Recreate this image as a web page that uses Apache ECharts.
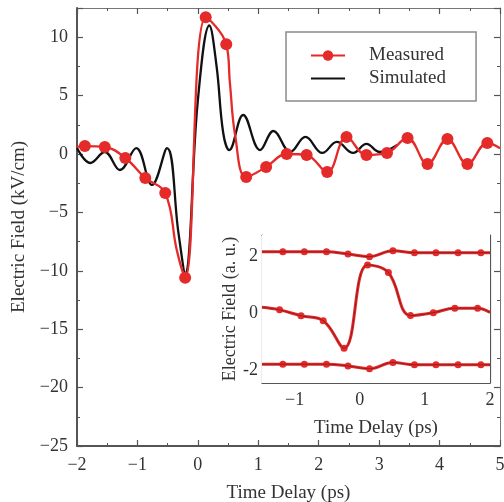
<!DOCTYPE html>
<html><head><meta charset="utf-8">
<script src="https://cdn.jsdelivr.net/npm/echarts@6/dist/echarts.min.js"></script>
<style>html,body{margin:0;padding:0;background:#fff}#c{width:504px;height:502px}</style>
</head><body><div id="c"></div>
<script>
// ---- Main chart data (Time delay ps, Electric field kV/cm) ----
const measuredX = [-1.87,-1.54,-1.2,-0.87,-0.54,-0.21,0.13,0.47,0.8,1.13,1.47,1.8,2.14,2.46,2.79,3.13,3.47,3.8,4.13,4.46,4.79];
const measuredY = [0.68,0.6,-0.34,-2.05,-3.34,-10.6,11.7,9.4,-1.97,-1.11,0.0,-0.09,-1.54,1.46,-0.09,0.09,1.37,-0.86,1.28,-0.86,0.94];
// extra (unmarked) points along the measured curve
const measuredCurveX = [-2.0,-0.35,0.53,0.62,5.0];
const measuredCurveY = [0.6,-8.2,6.1,1.5,0.5];
const simulatedX = [-2.0,-1.78,-1.54,-1.29,-1.02,-0.76,-0.51,-0.32,-0.21,0.0,0.19,0.31,0.42,0.52,0.75,1.03,1.25,1.53,1.78,2.06,2.3,2.57,2.79,3.01,3.3];
const simulatedY = [0.51,-0.77,0.17,-1.37,0.51,-2.65,0.51,-6.8,-10.2,4.6,11.0,7.5,1.8,0.34,3.34,0.34,1.97,0.17,1.46,0.09,1.03,0.09,0.86,0.17,0.77];

// ---- Inset data (Time delay ps, Electric field a.u.) ----
const insetMarkX = [-1.18,-0.85,-0.51,-0.18,0.15,0.51,0.84,1.17,1.51,1.86];
const insetTopY = [2.16,2.16,2.16,2.08,1.99,2.2,2.13,2.13,2.13,2.13];
const insetBottomY = [-1.79,-1.79,-1.79,-1.85,-1.95,-1.73,-1.81,-1.81,-1.81,-1.81];
const insetMidX = [-1.23,-0.9,-0.56,-0.24,0.12,0.44,0.78,1.13,1.46,1.81];
const insetMidY = [0.12,-0.09,-0.26,-1.23,1.7,1.43,-0.08,0.02,0.18,0.18];
const insetEdgeX = [-1.5,2.0];
const insetTopEdgeY = [2.16,2.13];
const insetMidEdgeY = [0.21,0.03];
const insetBottomEdgeY = [-1.79,-1.81];
const insetXTicks = [-1,0,1,2];
const insetYTicks = [-2,0,2];

const FONT = 'Liberation Serif';
const TXT = '#333';
const AX = '#555';
const RED = '#e52a2a';
const minus = v => String(v).replace('-', '\u2212');

function markedData(xs, ys, cx, cy) {
  const pts = xs.map((x,i)=>({value:[x,ys[i]]}));
  (cx||[]).forEach((x,i)=>pts.push({value:[x,cy[i]], symbol:'none'}));
  pts.sort((a,b)=>a.value[0]-b.value[0]);
  return pts;
}
function pairs(xs, ys){ return xs.map((x,i)=>[x,ys[i]]); }
function range(a,b,s){ const r=[]; for(let v=a; v<=b+1e-9; v+=s) r.push(Math.round(v*1000)/1000); return r; }

// main axes
const mainAxisCommon = (pos, lw, col) => ({
  gridIndex:0, type:'value', position:pos,
  axisLine:{show:true,onZero:false,lineStyle:{color:col,width:lw}},
  axisTick:{show:true,inside:true,length:6,lineStyle:{color:AX,width:1.2}},
  minorTick:{show:true,splitNumber:2,length:3,lineStyle:{color:AX,width:1}},
  splitLine:{show:false}, minorSplitLine:{show:false}
});
const xMain = Object.assign(mainAxisCommon('bottom',2,AX),{
  min:-2,max:5,interval:1,
  axisLabel:{show:true,margin:10,fontSize:18,fontFamily:FONT,color:TXT,formatter:minus},
  name:'Time Delay (ps)',nameLocation:'middle',nameGap:38,
  nameTextStyle:{fontSize:19,fontFamily:FONT,color:TXT}
});
const xMainTop = Object.assign(mainAxisCommon('top',1,'#777'),{min:-2,max:5,interval:1,axisLabel:{show:false}});
const yMain = Object.assign(mainAxisCommon('left',2,AX),{
  min:-25,max:12.5,interval:5,
  axisLabel:{show:true,margin:9,fontSize:18,fontFamily:FONT,color:TXT,formatter:minus,showMaxLabel:false},
  name:'Electric Field (kV/cm)',nameLocation:'middle',nameGap:46,
  nameTextStyle:{fontSize:19,fontFamily:FONT,color:TXT}
});
const yMainRight = Object.assign(mainAxisCommon('right',1,'#777'),{min:-25,max:12.5,interval:5,axisLabel:{show:false}});

// inset axes
function insetAxis(pos, min, max, ticks, len, showLine, label, extra){
  const a = {gridIndex:1,type:'value',position:pos,min:min,max:max,
    axisLine:{show:showLine,onZero:false,lineStyle:{color:AX,width:1.2}},
    axisTick:{show:true,inside:true,length:len,customValues:ticks,lineStyle:{color:AX,width:1}},
    splitLine:{show:false},
    axisLabel:label ? Object.assign({show:true,customValues:ticks,fontSize:18,fontFamily:FONT,color:TXT},label) : {show:false}
  };
  return Object.assign(a, extra||{});
}
const ixMinor = range(-1.4,1.8,0.2).filter(v=>Math.abs(v-Math.round(v))>1e-6);
const iyMinor = range(-2.4,2.6,0.2).filter(v=>Math.abs(v/2-Math.round(v/2))>1e-6);
const insetXAxes = [
  insetAxis('bottom',-1.5,2,insetXTicks,5,true,{margin:8,formatter:minus},
    {name:'Time Delay (ps)',nameLocation:'middle',nameGap:36,nameTextStyle:{fontSize:19,fontFamily:FONT,color:TXT}}),
  insetAxis('bottom',-1.5,2,ixMinor,3,false,null),
  insetAxis('top',-1.5,2,insetXTicks,5,true,null),
  insetAxis('top',-1.5,2,ixMinor,3,false,null)
];
const insetYAxes = [
  insetAxis('left',-2.45,2.75,insetYTicks,5,true,{margin:4},
    {name:'Electric Field (a. u.)',nameLocation:'middle',nameGap:20,nameTextStyle:{fontSize:18,fontFamily:FONT,color:TXT}}),
  insetAxis('left',-2.45,2.75,iyMinor,3,false,null),
  insetAxis('right',-2.45,2.75,insetYTicks,5,true,null),
  insetAxis('right',-2.45,2.75,iyMinor,3,false,null)
];

function insetSeries(xs, ys, edgeY){
  const d = markedData(xs, ys, insetEdgeX, edgeY);
  return [
    {type:'line',xAxisIndex:2,yAxisIndex:2,data:d,smooth:0.4,symbol:'circle',symbolSize:7,
     itemStyle:{color:RED},lineStyle:{color:RED,width:3},z:5,silent:true},
    {type:'line',xAxisIndex:2,yAxisIndex:2,data:d.map(p=>p.value),smooth:0.4,symbol:'none',
     lineStyle:{color:'#6a1515',width:0.8,opacity:0.8},z:6,silent:true}
  ];
}

const option = {
  animation:false,
  backgroundColor:'#fff',
  grid:[
    {left:77,right:4,top:8,bottom:56,containLabel:false,outerBoundsMode:'none'},
    {left:262,right:14,top:235,bottom:119,containLabel:false,outerBoundsMode:'none',show:true,backgroundColor:'#fff',borderWidth:0,z:3}
  ],
  legend:{
    data:[{name:'Measured'},{name:'Simulated',itemStyle:{opacity:0,borderWidth:0}}],
    orient:'vertical',left:286,top:32,
    padding:[14,30,13,24],itemGap:4,itemWidth:34,itemHeight:13,
    borderColor:'#8a8a8a',borderWidth:1.5,backgroundColor:'#fff',
    textStyle:{fontSize:19,fontFamily:FONT,color:TXT,padding:[0,0,0,19]}
  },
  xAxis:[xMain,xMainTop].concat(insetXAxes),
  yAxis:[yMain,yMainRight].concat(insetYAxes),
  series:[
    {name:'Simulated',type:'line',xAxisIndex:0,yAxisIndex:0,data:pairs(simulatedX,simulatedY),
     smooth:0.4,symbol:'none',lineStyle:{color:'#111',width:2.3},itemStyle:{color:'#111'},z:3},
    {name:'Measured',type:'line',xAxisIndex:0,yAxisIndex:0,data:markedData(measuredX,measuredY,measuredCurveX,measuredCurveY),
     smooth:0.4,symbol:'circle',symbolSize:12,showAllSymbol:true,
     lineStyle:{color:RED,width:2.3},itemStyle:{color:RED},z:4}
  ].concat(insetSeries(insetMarkX,insetTopY,insetTopEdgeY))
   .concat(insetSeries(insetMidX,insetMidY,insetMidEdgeY))
   .concat(insetSeries(insetMarkX,insetBottomY,insetBottomEdgeY))
};
const chart = echarts.init(document.getElementById('c'),null,{renderer:'canvas'});
chart.setOption(option);
</script></body></html>
